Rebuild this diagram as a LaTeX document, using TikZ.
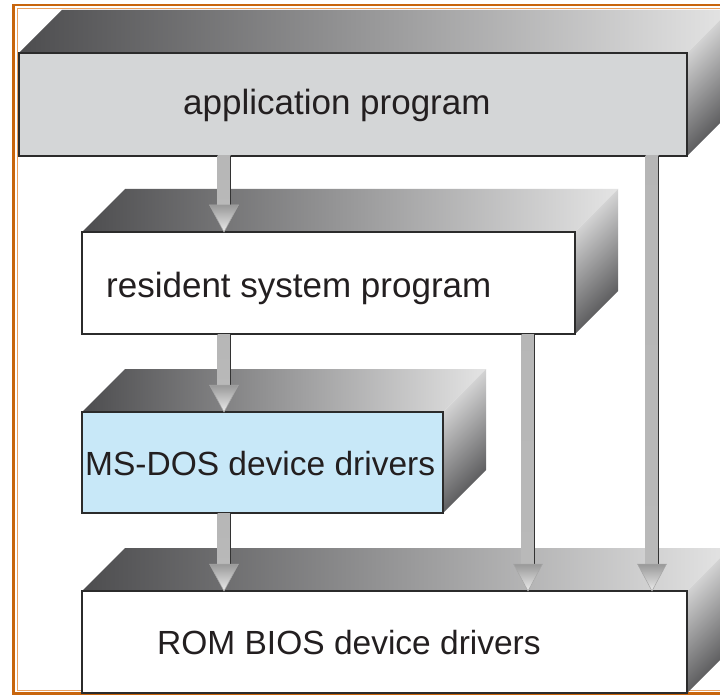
\documentclass[tikz,border=0pt]{standalone}
\usepackage{fontspec}
\setmainfont{Liberation Sans}
\usetikzlibrary{calc,positioning}

\definecolor{framedark}{HTML}{C8650C}
\definecolor{framelight}{HTML}{E8A060}
\definecolor{appgray}{HTML}{D4D6D7}
\definecolor{dosblue}{HTML}{C8E8F8}
\definecolor{edge}{HTML}{2B2B2B}
\definecolor{ink}{HTML}{231F20}
\definecolor{topdark}{HTML}{4D4D4F}
\definecolor{toplight}{HTML}{E4E4E4}

\tikzset{
  front/.style={draw=edge, line width=1.3pt, anchor=north west, inner sep=0pt, outer sep=0pt},
  lbl/.style={anchor=base west, inner sep=0pt, text=ink, font=\fontsize{33.5}{40}\selectfont},
  biglbl/.style={lbl, font=\fontsize{35}{42}\selectfont},
  topface/.style={left color=topdark, right color=toplight},
  sideface/.style={top color=toplight, bottom color=topdark, shading angle=45},
  shaft/.style={top color=gray!105!black!60, bottom color=gray!55},
  head/.style={top color=gray!80, bottom color=gray!15, draw=gray!70, line width=0.5pt},
}

% top and side faces of a slab behind its front node
\newcommand{\slab}[1]{%
  \shade[topface] (#1.north west) -- ++(43,-43) -- ($(#1.north east)+(43,-43)$) -- (#1.north east) -- cycle;
  \shade[sideface] (#1.north east) -- ++(43,-43) -- ($(#1.south east)+(43,-43)$) -- (#1.south east) -- cycle;
  \draw[edge, line width=1.3pt] (#1.north west) rectangle (#1.south east);
}
% flow arrow from #1 down to the tip #2
\newcommand{\flow}[2]{%
  \path (#1) coordinate (fs) (#2) coordinate (ft);
  \shade[shaft] ($(fs)+(-6.5,0)$) rectangle ($(ft)+(6.5,-26)$);
  \draw[gray!40!black, line width=0.8pt] ($(fs)+(6,0)$) -- ($(ft)+(6,-26)$);
  \shade[head] ($(ft)+(-14.5,-27)$) -- ($(ft)+(14.5,-27)$) -- (ft) -- cycle;
}

\begin{document}
\begin{tikzpicture}[x=1pt,y=-1pt]
  \useasboundingbox (0,0) rectangle (720,695);
  \clip (0,0) rectangle (720,695);
  \fill[white] (0,0) rectangle (720,695);

  % frame
  \draw[framedark, line width=2.5pt] (13.5,5) rectangle (740,693.5);
  \draw[framelight, line width=1pt] (17.5,9) rectangle (740,690);

  % slabs
  \node[front, fill=white, minimum width=605pt, minimum height=102pt] (rom) at (82,591) {};
  \slab{rom}
  \node[front, fill=dosblue, minimum width=361pt, minimum height=101pt] (dos) at (82,412) {};
  \slab{dos}
  \node[front, fill=white, minimum width=493pt, minimum height=102pt] (res) at (82,232) {};
  \slab{res}
  \node[front, fill=appgray, minimum width=668pt, minimum height=103pt] (app) at (19,53) {};
  \slab{app}

  % labels
  \node[biglbl] (applbl) at (183,115) {application program};
  \node[biglbl] (reslbl) at (106,297) {resident system program};
  \node[lbl] (doslbl) at (85,475) {MS-DOS device drivers};
  \node[lbl] (romlbl) at (157,654) {ROM BIOS device drivers};

  % arrows
  \coordinate (lane1) at (224,0);
  \coordinate (lane2) at (528,0);
  \coordinate (lane3) at (652,0);
  \flow{app.south -| lane1}{res.north -| lane1}
  \flow{res.south -| lane1}{dos.north -| lane1}
  \flow{dos.south -| lane1}{rom.north -| lane1}
  \flow{res.south -| lane2}{rom.north -| lane2}
  \flow{app.south -| lane3}{rom.north -| lane3}
\end{tikzpicture}
\end{document}
